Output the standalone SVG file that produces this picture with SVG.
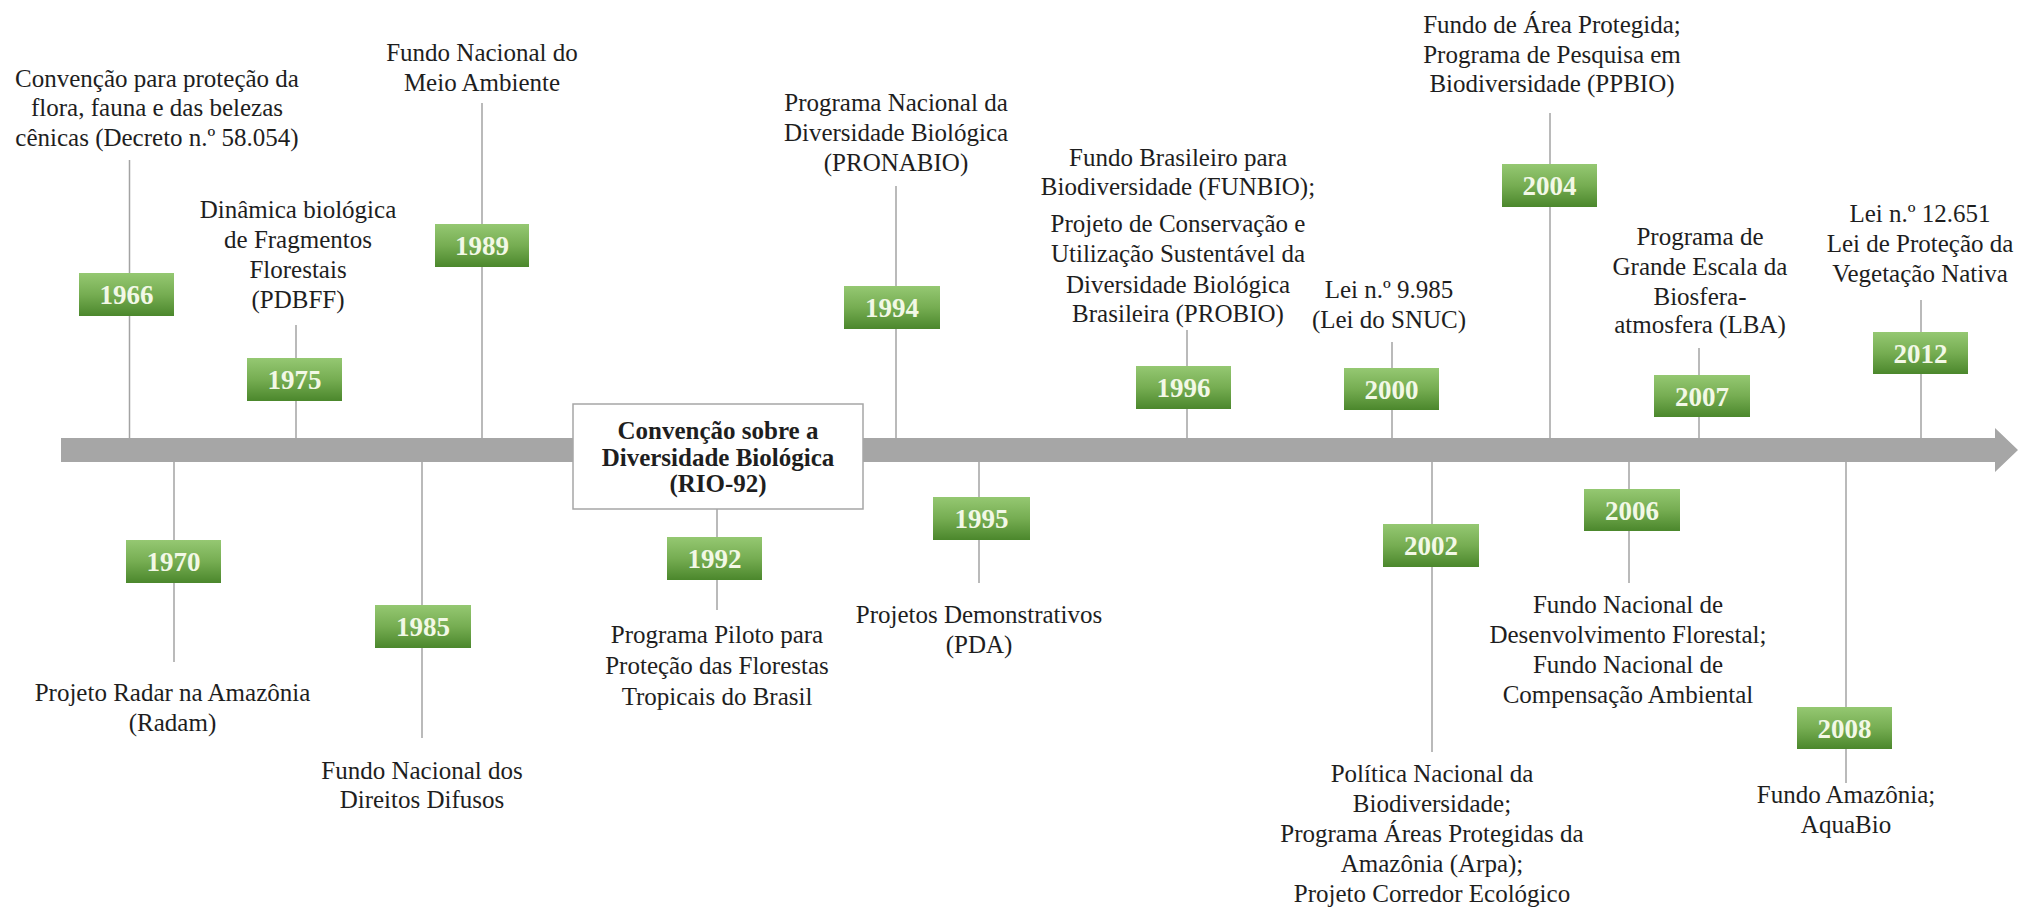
<svg xmlns="http://www.w3.org/2000/svg" width="2022" height="908" viewBox="0 0 2022 908" font-family="'Liberation Serif', 'Times New Roman', 'DejaVu Serif', serif">
<defs>
<linearGradient id="g" x1="0" y1="0" x2="0" y2="1">
<stop offset="0" stop-color="#95c872"/>
<stop offset="0.5" stop-color="#76ad52"/>
<stop offset="1" stop-color="#4b872c"/>
</linearGradient>
<style>
text{font-family:'Liberation Serif','Times New Roman','DejaVu Serif',serif}
.t{font-size:25px;fill:#1e1e1e;text-anchor:middle}
.b{font-weight:bold}
.y{font-size:27px;font-weight:bold;fill:#f2f8e6;text-anchor:middle}
.yb{fill:url(#g)}
.c{stroke:#a3a3a3;stroke-width:1.5;fill:none}
</style>
</defs>
<rect width="2022" height="908" fill="#ffffff"/>
<g id="connectors">
<line class="c" x1="129.5" y1="160" x2="129.5" y2="438"/>
<line class="c" x1="296" y1="325" x2="296" y2="438"/>
<line class="c" x1="482" y1="103" x2="482" y2="438"/>
<line class="c" x1="896" y1="186" x2="896" y2="438"/>
<line class="c" x1="1187" y1="330" x2="1187" y2="438"/>
<line class="c" x1="1392" y1="342" x2="1392" y2="438"/>
<line class="c" x1="1550" y1="113" x2="1550" y2="438"/>
<line class="c" x1="1699" y1="348" x2="1699" y2="438"/>
<line class="c" x1="1921" y1="300" x2="1921" y2="438"/>
<line class="c" x1="174" y1="461" x2="174" y2="662"/>
<line class="c" x1="422" y1="461" x2="422" y2="738"/>
<line class="c" x1="717" y1="509" x2="717" y2="610"/>
<line class="c" x1="979" y1="461" x2="979" y2="583"/>
<line class="c" x1="1432" y1="461" x2="1432" y2="752"/>
<line class="c" x1="1629" y1="461" x2="1629" y2="583"/>
<line class="c" x1="1846" y1="461" x2="1846" y2="783"/>
</g>
<g id="timeline">
<path d="M61 438 H1995 V428 L2018 450 L1995 472 V462 H61 Z" fill="#a6a6a6"/>
</g>
<g id="rio92">
<rect x="573" y="404" width="290" height="105" fill="#ffffff" stroke="#a6a6a6" stroke-width="1.5"/>
<text class="t b" x="718" y="439">Convenção sobre a</text>
<text class="t b" x="718" y="466">Diversidade Biológica</text>
<text class="t b" x="718" y="492">(RIO-92)</text>
</g>
<g id="y1966">
<rect class="yb" x="79" y="273" width="95" height="43"/>
<text class="y" x="126.5" y="304">1966</text>
<text class="t" x="157" y="87">Convenção para proteção da</text>
<text class="t" x="157" y="116">flora, fauna e das belezas</text>
<text class="t" x="157" y="146">cênicas (Decreto n.º 58.054)</text>
</g>
<g id="y1975">
<rect class="yb" x="247" y="358" width="95" height="43"/>
<text class="y" x="294.5" y="389">1975</text>
<text class="t" x="298" y="218">Dinâmica biológica</text>
<text class="t" x="298" y="248">de Fragmentos</text>
<text class="t" x="298" y="278">Florestais</text>
<text class="t" x="298" y="308">(PDBFF)</text>
</g>
<g id="y1989">
<rect class="yb" x="435" y="224" width="94" height="43"/>
<text class="y" x="482" y="255">1989</text>
<text class="t" x="482" y="61">Fundo Nacional do</text>
<text class="t" x="482" y="91">Meio Ambiente</text>
</g>
<g id="y1994">
<rect class="yb" x="844" y="286" width="96" height="43"/>
<text class="y" x="892" y="317">1994</text>
<text class="t" x="896" y="111">Programa Nacional da</text>
<text class="t" x="896" y="141">Diversidade Biológica</text>
<text class="t" x="896" y="171">(PRONABIO)</text>
</g>
<g id="y1996">
<rect class="yb" x="1136" y="366" width="95" height="43"/>
<text class="y" x="1183.5" y="397">1996</text>
<text class="t" x="1178" y="166">Fundo Brasileiro para</text>
<text class="t" x="1178" y="195">Biodiversidade (FUNBIO);</text>
<text class="t" x="1178" y="232">Projeto de Conservação e</text>
<text class="t" x="1178" y="262">Utilização Sustentável da</text>
<text class="t" x="1178" y="293">Diversidade Biológica</text>
<text class="t" x="1178" y="322">Brasileira (PROBIO)</text>
</g>
<g id="y2000">
<rect class="yb" x="1344" y="368" width="95" height="42"/>
<text class="y" x="1391.5" y="399">2000</text>
<text class="t" x="1389" y="298">Lei n.º 9.985</text>
<text class="t" x="1389" y="328">(Lei do SNUC)</text>
</g>
<g id="y2004">
<rect class="yb" x="1502" y="164" width="95" height="43"/>
<text class="y" x="1549.5" y="195">2004</text>
<text class="t" x="1552" y="33">Fundo de Área Protegida;</text>
<text class="t" x="1552" y="63">Programa de Pesquisa em</text>
<text class="t" x="1552" y="92">Biodiversidade (PPBIO)</text>
</g>
<g id="y2007">
<rect class="yb" x="1654" y="375" width="96" height="42"/>
<text class="y" x="1702" y="406">2007</text>
<text class="t" x="1700" y="245">Programa de</text>
<text class="t" x="1700" y="275">Grande Escala da</text>
<text class="t" x="1700" y="305">Biosfera-</text>
<text class="t" x="1700" y="333">atmosfera (LBA)</text>
</g>
<g id="y2012">
<rect class="yb" x="1873" y="332" width="95" height="42"/>
<text class="y" x="1920.5" y="363">2012</text>
<text class="t" x="1920" y="222">Lei n.º 12.651</text>
<text class="t" x="1920" y="252">Lei de Proteção da</text>
<text class="t" x="1920" y="282">Vegetação Nativa</text>
</g>
<g id="y1970">
<rect class="yb" x="126" y="540" width="95" height="43"/>
<text class="y" x="173.5" y="571">1970</text>
<text class="t" x="172.5" y="701">Projeto Radar na Amazônia</text>
<text class="t" x="172.5" y="731">(Radam)</text>
</g>
<g id="y1985">
<rect class="yb" x="375" y="605" width="96" height="43"/>
<text class="y" x="423" y="636">1985</text>
<text class="t" x="422" y="779">Fundo Nacional dos</text>
<text class="t" x="422" y="808">Direitos Difusos</text>
</g>
<g id="y1992">
<rect class="yb" x="667" y="537" width="95" height="43"/>
<text class="y" x="714.5" y="568">1992</text>
<text class="t" x="717" y="643">Programa Piloto para</text>
<text class="t" x="717" y="674">Proteção das Florestas</text>
<text class="t" x="717" y="705">Tropicais do Brasil</text>
</g>
<g id="y1995">
<rect class="yb" x="933" y="497" width="97" height="43"/>
<text class="y" x="981.5" y="528">1995</text>
<text class="t" x="979" y="623">Projetos Demonstrativos</text>
<text class="t" x="979" y="653">(PDA)</text>
</g>
<g id="y2002">
<rect class="yb" x="1383" y="524" width="96" height="43"/>
<text class="y" x="1431" y="555">2002</text>
<text class="t" x="1432" y="782">Política Nacional da</text>
<text class="t" x="1432" y="812">Biodiversidade;</text>
<text class="t" x="1432" y="842">Programa Áreas Protegidas da</text>
<text class="t" x="1432" y="872">Amazônia (Arpa);</text>
<text class="t" x="1432" y="902">Projeto Corredor Ecológico</text>
</g>
<g id="y2006">
<rect class="yb" x="1584" y="489" width="96" height="42"/>
<text class="y" x="1632" y="520">2006</text>
<text class="t" x="1628" y="613">Fundo Nacional de</text>
<text class="t" x="1628" y="643">Desenvolvimento Florestal;</text>
<text class="t" x="1628" y="673">Fundo Nacional de</text>
<text class="t" x="1628" y="703">Compensação Ambiental</text>
</g>
<g id="y2008">
<rect class="yb" x="1797" y="707" width="95" height="42"/>
<text class="y" x="1844.5" y="738">2008</text>
<text class="t" x="1846" y="803">Fundo Amazônia;</text>
<text class="t" x="1846" y="833">AquaBio</text>
</g>
</svg>
